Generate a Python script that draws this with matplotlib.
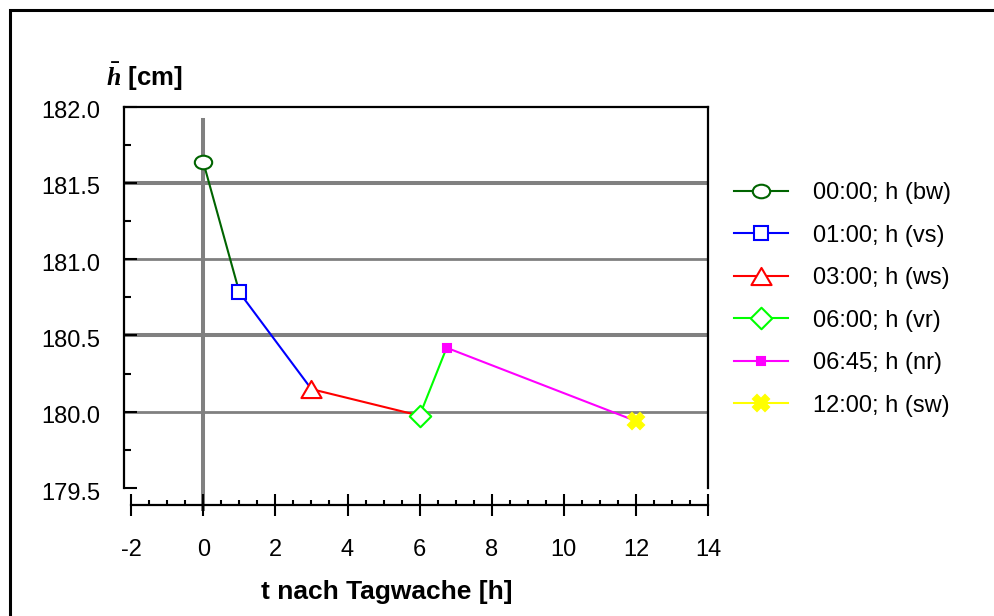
import matplotlib
matplotlib.use('Agg')
import matplotlib.pyplot as plt
import matplotlib.transforms as mtransforms
import numpy as np
from matplotlib.path import Path
from matplotlib.patches import Rectangle

plt.rcParams['font.family'] = ['Liberation Sans', 'DejaVu Sans']
plt.rcParams['mathtext.fontset'] = 'custom'
plt.rcParams['mathtext.it'] = 'Liberation Serif:italic:bold'
plt.rcParams['mathtext.rm'] = 'Liberation Serif:bold'

# data
labels = ['00:00; h (bw)', '01:00; h (vs)', '03:00; h (ws)',
          '06:00; h (vr)', '06:45; h (nr)', '12:00; h (sw)']
t = [0.0, 1.0, 3.0, 6.0, 6.75, 12.0]
h = [181.635, 180.782, 180.148, 179.974, 180.419, 179.939]
farben = ['#006400', '#0000ff', '#ff0000', '#00ff00', '#ff00ff', '#ffff00']

yticks = [179.5, 180.0, 180.5, 181.0, 181.5, 182.0]
xticks = [-2, 0, 2, 4, 6, 8, 10, 12, 14]

# marker shapes
kreis = Path.unit_circle()
ellipse = Path(kreis.vertices * [1.0, 0.78], kreis.codes)
dreieck = Path([(0, 0.85), (-1, -0.85), (1, -0.85), (0, 0.85)],
               [Path.MOVETO, Path.LINETO, Path.LINETO, Path.CLOSEPOLY])
raute = Path([(0, 1), (1, 0), (0, -1), (-1, 0), (0, 1)],
             [Path.MOVETO, Path.LINETO, Path.LINETO, Path.LINETO, Path.CLOSEPOLY])
marker = [ellipse, 's', dreieck, raute, 's', 'X']
msize = [12.5, 10.5, 14.5, 15.5, 6, 12]
mface = ['white', 'white', 'white', 'white', '#ff00ff', '#ffff00']

fig = plt.figure(figsize=(9.94, 6.16), dpi=100)
ax = fig.add_axes([124/994, 1-488/616, (708-124)/994, (488-106.5)/616])
ax.set_xlim(-2.2, 14)
ax.set_ylim(179.5, 182.0)

# grid
grau = '#808080'
for y in [181.5, 181.0, 180.5, 180.0]:
    lw = 2.9 if y in (181.5, 180.5) else 2.0
    ax.axhline(y, color=grau, lw=lw, zorder=1)
ax.axvline(0, ymin=-0.055, ymax=0.965, color=grau, lw=2.9, zorder=1, clip_on=False)

# each series: point plus segment to the next point
for i in range(len(t)):
    if i < len(t) - 1:
        xs = [t[i], t[i+1]]
        ys = [h[i], h[i+1]]
    else:
        xs = [t[i]]
        ys = [h[i]]
    ax.plot(xs, ys, '-', color=farben[i], lw=1.5, marker=marker[i],
            markevery=[0], ms=msize[i], mfc=mface[i], mec=farben[i], mew=1.5,
            label=labels[i], zorder=3, clip_on=False)

# axes styling
for s in ['left', 'top', 'right', 'bottom']:
    ax.spines[s].set_linewidth(1.6)
ax.spines['bottom'].set_position(('outward', 12))
ax.spines['bottom'].set_bounds(-2, 14)

ax.set_yticks(yticks)
ax.set_yticklabels(['%.1f' % v for v in yticks])
ax.set_yticks(np.arange(179.75, 182.0, 0.5), minor=True)
ax.set_xticks(xticks)
ax.set_xticklabels([str(v) for v in xticks])
ax.set_xticks(np.arange(-2, 14.01, 0.5), minor=True)

ax.tick_params(axis='y', which='major', direction='in', length=9, width=1.5,
               labelsize=17, pad=17)
ax.tick_params(axis='y', which='minor', direction='in', length=4.8, width=1.5)
ax.tick_params(axis='x', which='major', direction='inout', length=16, width=1.5,
               labelsize=17, pad=17)
ax.tick_params(axis='x', which='minor', direction='in', length=3.6, width=1.5)

# y labels sit a little below their ticks in the original
runter = mtransforms.ScaledTranslation(0, -3/100, fig.dpi_scale_trans)
for lab in ax.get_yticklabels():
    lab.set_transform(lab.get_transform() + runter)

fig.text(106/994, 1-77/616, r'$\bar{h}$ [cm]', fontsize=18.5, fontweight='bold',
         ha='left', va='center')
fig.text(387/994, 1-592/616, 't nach Tagwache [h]', fontsize=19, fontweight='bold',
         ha='center', va='center')

ax.legend(loc='upper left', bbox_to_anchor=(734/994, 1-182/616),
          bbox_transform=fig.transFigure, frameon=False, fontsize=17,
          borderpad=0, borderaxespad=0, handlelength=2.3, handletextpad=1.05,
          labelspacing=0.87, numpoints=1)

# frame around the whole picture
fig.add_artist(Rectangle((10/994, -0.5), 2, 1.5 - 10/616, transform=fig.transFigure,
                         fill=False, lw=2.2, ec='black'))

fig.savefig('out.png', dpi=100)
